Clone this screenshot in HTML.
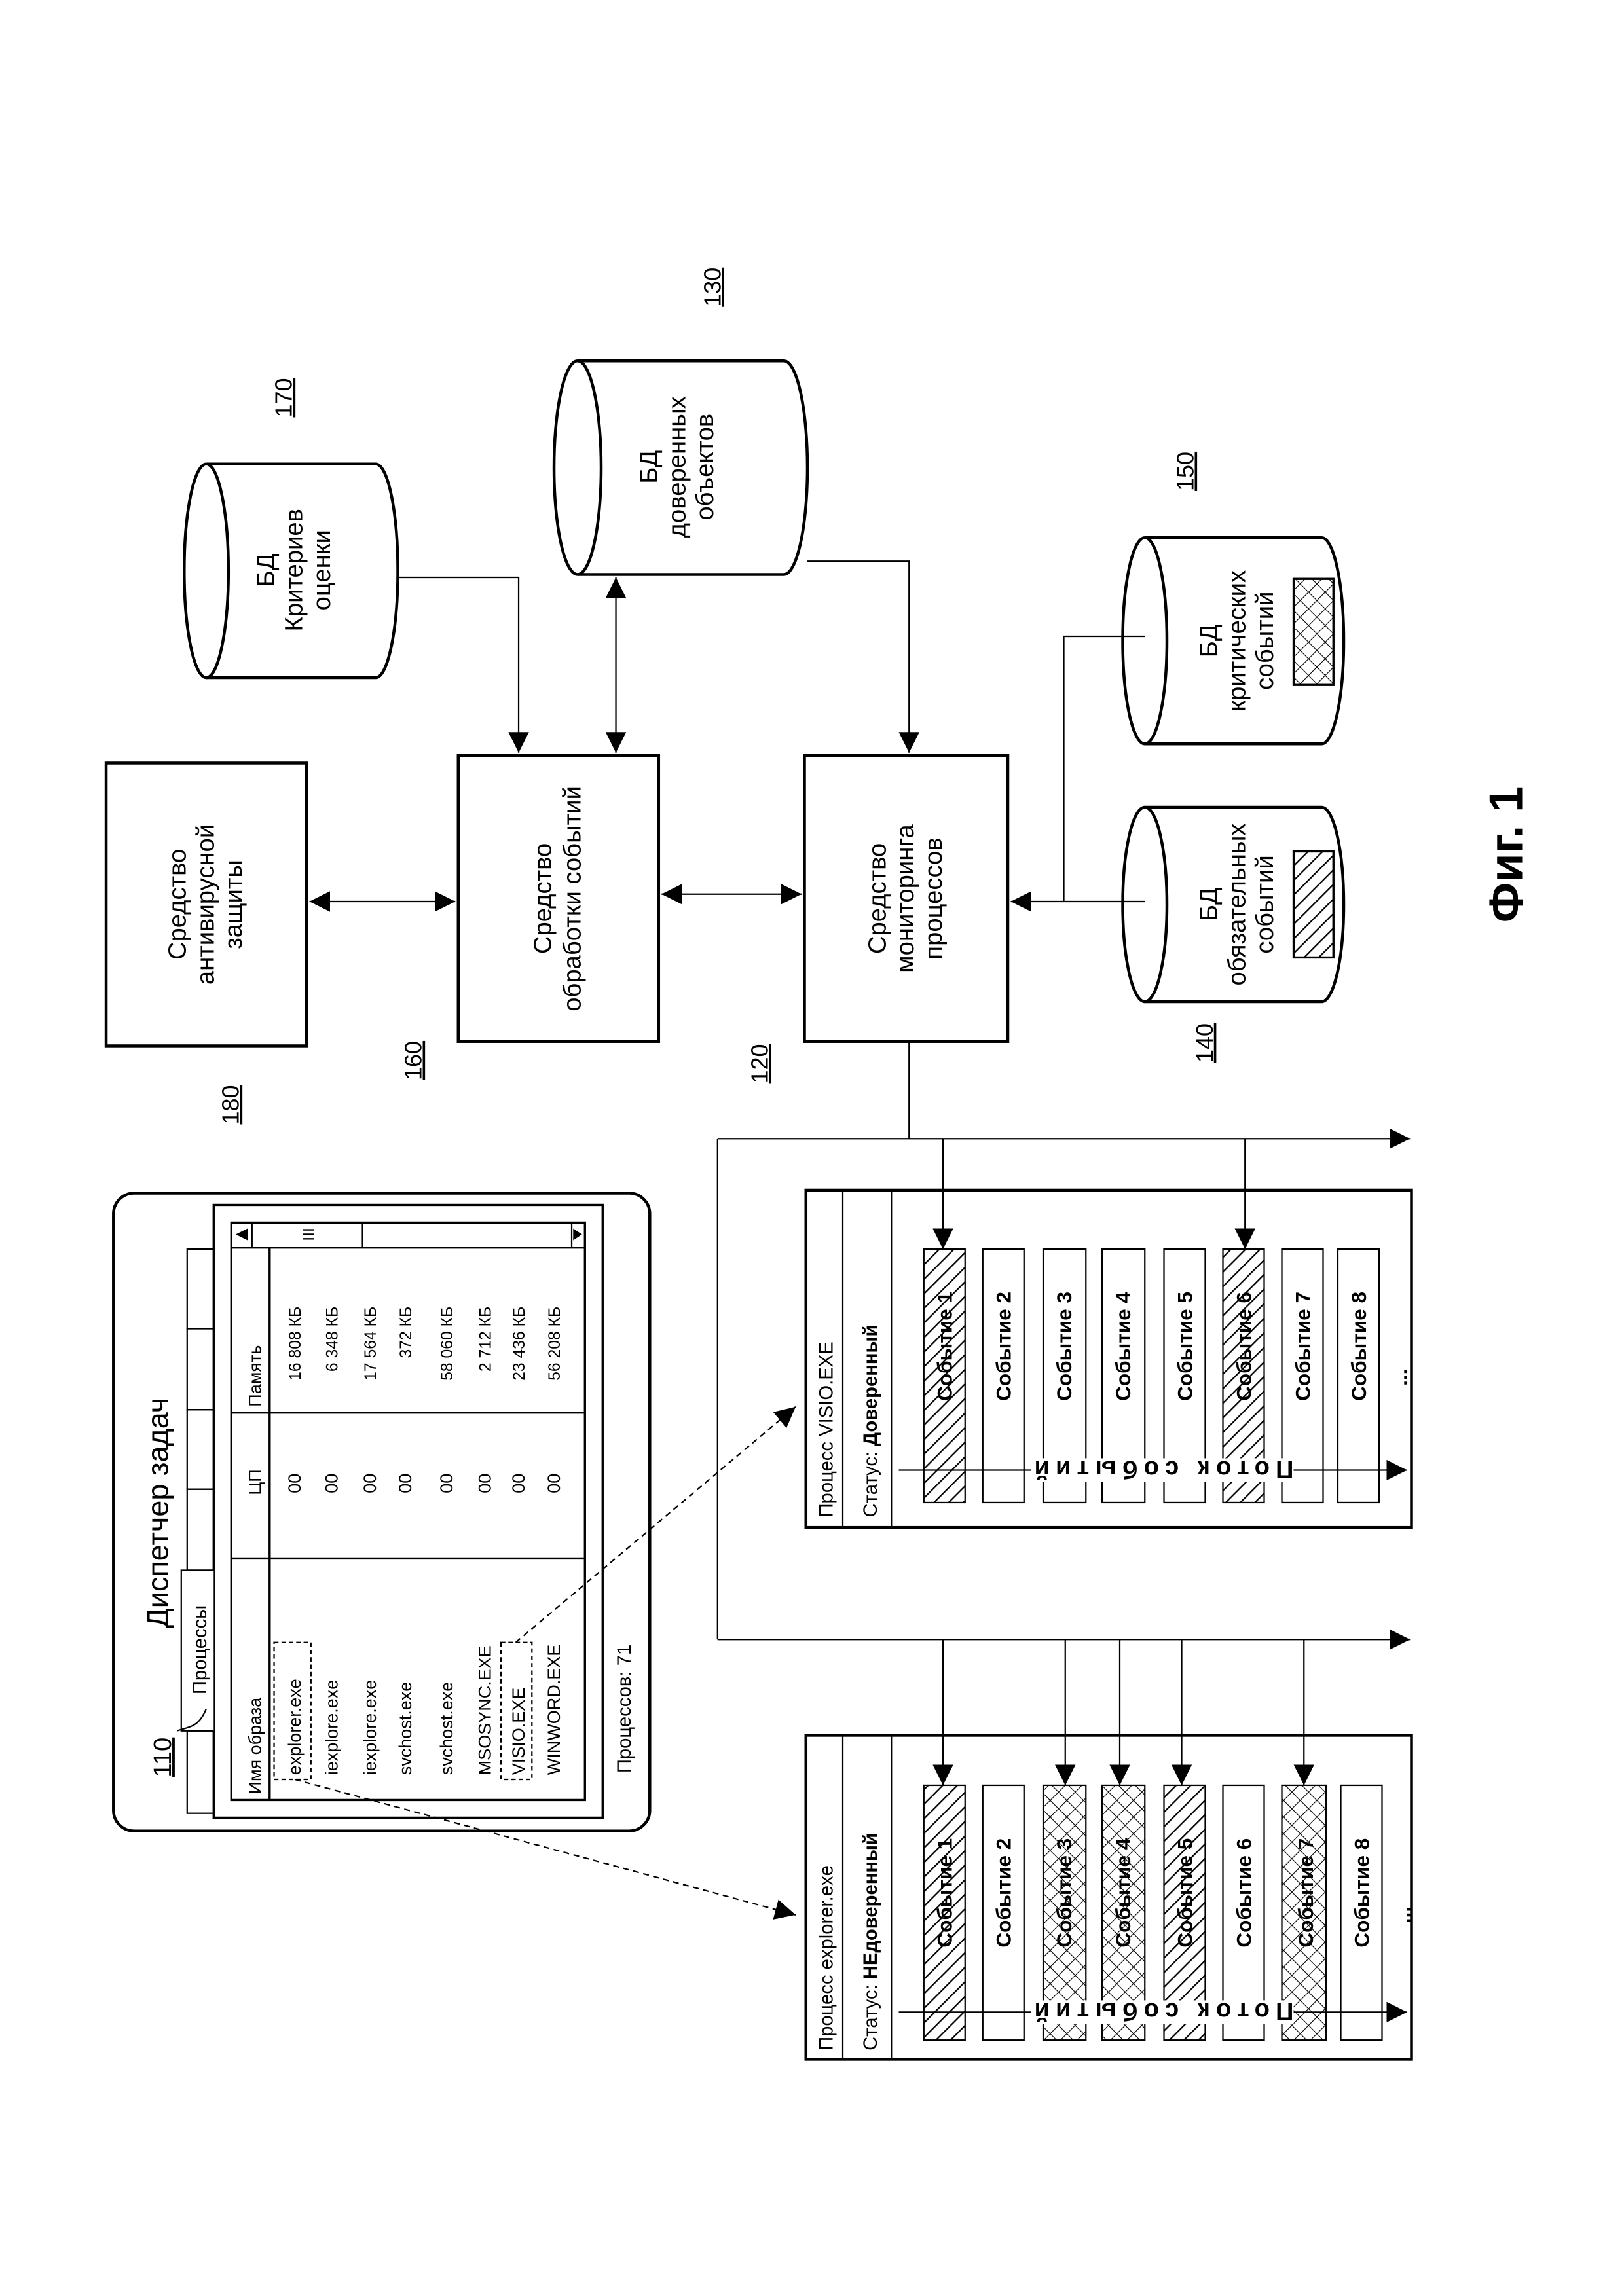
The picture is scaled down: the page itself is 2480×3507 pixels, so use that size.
<!DOCTYPE html>
<html><head><meta charset="utf-8"><style>
html,body{margin:0;padding:0;background:#fff}
svg{display:block}
text{font-family:"Liberation Sans","DejaVu Sans",sans-serif;fill:#000}
</style></head><body>
<svg width="2480" height="3507" viewBox="0 0 1102.2 1558.7" xmlns="http://www.w3.org/2000/svg">
<defs>
<pattern id="hatch" width="7" height="7" patternUnits="userSpaceOnUse" patternTransform="rotate(45)">
<rect width="7" height="7" fill="#fff"/><line x1="0" y1="0" x2="0" y2="7" stroke="#000" stroke-width="2"/></pattern>
<pattern id="cross" width="8" height="8" patternUnits="userSpaceOnUse" patternTransform="rotate(45)">
<rect width="8" height="8" fill="#fff"/><line x1="0" y1="0" x2="0" y2="8" stroke="#000" stroke-width="1"/><line x1="0" y1="0" x2="8" y2="0" stroke="#000" stroke-width="1"/></pattern>
<marker id="ar" viewBox="0 0 10 10" refX="10" refY="5" markerWidth="14" markerHeight="14" markerUnits="userSpaceOnUse" orient="auto-start-reverse"><path d="M0,0 L10,5 L0,10 z" fill="#000"/></marker>
</defs>
<g fill="none" stroke="#000">
<rect x="72" y="518" width="136" height="192" stroke-width="2"/>
<rect x="311" y="513" width="136" height="194" stroke-width="2"/>
<rect x="546" y="513" width="138" height="194" stroke-width="2"/>
<path d="M140,315 L255,315 A15,72.5 0 0 1 255,460 L140,460" stroke-width="2"/><ellipse cx="140" cy="387.5" rx="15" ry="72.5" stroke-width="2"/>
<path d="M392,245 L532,245 A16,72.5 0 0 1 532,390 L392,390" stroke-width="2"/><ellipse cx="392" cy="317.5" rx="16" ry="72.5" stroke-width="2"/>
<path d="M777,365 L897,365 A15,70 0 0 1 897,505 L777,505" stroke-width="2"/><ellipse cx="777" cy="435" rx="15" ry="70" stroke-width="2"/>
<path d="M777,548 L897,548 A15,66 0 0 1 897,680 L777,680" stroke-width="2"/><ellipse cx="777" cy="614" rx="15" ry="66" stroke-width="2"/>
<rect x="878" y="393" width="27" height="72" fill="url(#cross)" stroke-width="1.5"/>
<rect x="878" y="578" width="27" height="72" fill="url(#hatch)" stroke-width="1.5"/>
<line x1="210" y1="612" x2="309" y2="612" stroke-width="1" marker-start="url(#ar)" marker-end="url(#ar)"/>
<line x1="449" y1="607" x2="544" y2="607" stroke-width="1" marker-start="url(#ar)" marker-end="url(#ar)"/>
<path d="M270,392 H352 V511" stroke-width="1" marker-end="url(#ar)"/>
<line x1="418" y1="392" x2="418" y2="511" stroke-width="1" marker-start="url(#ar)" marker-end="url(#ar)"/>
<path d="M548,381 H617 V511" stroke-width="1" marker-end="url(#ar)"/>
<path d="M777,432 H722 V612 H777" stroke-width="1"/>
<line x1="722" y1="612" x2="686" y2="612" stroke-width="1" marker-end="url(#ar)"/>
<line x1="617" y1="707" x2="617" y2="773" stroke-width="1"/>
<line x1="487" y1="773" x2="957" y2="773" stroke-width="1" marker-end="url(#ar)"/>
<line x1="487" y1="773" x2="487" y2="1113" stroke-width="1"/>
<line x1="487" y1="1113" x2="957" y2="1113" stroke-width="1" marker-end="url(#ar)"/>
<line x1="640" y1="773" x2="640" y2="848" stroke-width="1" marker-end="url(#ar)"/>
<line x1="845" y1="773" x2="845" y2="848" stroke-width="1" marker-end="url(#ar)"/>
<line x1="640" y1="1113" x2="640" y2="1212" stroke-width="1" marker-end="url(#ar)"/>
<line x1="723" y1="1113" x2="723" y2="1212" stroke-width="1" marker-end="url(#ar)"/>
<line x1="760" y1="1113" x2="760" y2="1212" stroke-width="1" marker-end="url(#ar)"/>
<line x1="802" y1="1113" x2="802" y2="1212" stroke-width="1" marker-end="url(#ar)"/>
<line x1="885" y1="1113" x2="885" y2="1212" stroke-width="1" marker-end="url(#ar)"/>
<rect x="547" y="808" width="411" height="229" stroke-width="2"/>
<line x1="572" y1="808" x2="572" y2="1037" stroke-width="1"/><line x1="605" y1="808" x2="605" y2="1037" stroke-width="1"/>
<rect x="547" y="1178" width="411" height="220" stroke-width="2"/>
<line x1="572" y1="1178" x2="572" y2="1398" stroke-width="1"/><line x1="605" y1="1178" x2="605" y2="1398" stroke-width="1"/>
<rect x="627" y="848" width="28" height="172" fill="url(#hatch)"/>
<rect x="667" y="848" width="28" height="172"/>
<rect x="708" y="848" width="29" height="172"/>
<rect x="748" y="848" width="29" height="172"/>
<rect x="790" y="848" width="28" height="172"/>
<rect x="830" y="848" width="28" height="172" fill="url(#hatch)"/>
<rect x="870" y="848" width="28" height="172"/>
<rect x="908" y="848" width="28" height="172"/>
<rect x="627" y="1212" width="28" height="173" fill="url(#hatch)"/>
<rect x="667" y="1212" width="28" height="173"/>
<rect x="708" y="1212" width="29" height="173" fill="url(#cross)"/>
<rect x="748" y="1212" width="29" height="173" fill="url(#cross)"/>
<rect x="790" y="1212" width="28" height="173" fill="url(#hatch)"/>
<rect x="830" y="1212" width="28" height="173"/>
<rect x="870" y="1212" width="30" height="173" fill="url(#cross)"/>
<rect x="910" y="1212" width="28" height="173"/>
<line x1="610" y1="998" x2="955" y2="998" stroke-width="1" marker-end="url(#ar)"/>
<line x1="610" y1="1366" x2="955" y2="1366" stroke-width="1" marker-end="url(#ar)"/>
<rect x="700" y="990" width="178" height="16" fill="#fff" stroke="none"/>
<rect x="700" y="1358" width="178" height="16" fill="#fff" stroke="none"/>
<rect x="77" y="810" width="364" height="433" rx="14" stroke-width="2"/>
<rect x="127" y="848" width="18" height="54" stroke-width="1"/>
<rect x="127" y="902" width="18" height="55" stroke-width="1"/>
<rect x="127" y="957" width="18" height="54" stroke-width="1"/>
<rect x="127" y="1011" width="18" height="55" stroke-width="1"/>
<rect x="127" y="1175" width="18" height="56" stroke-width="1"/>
<rect x="145" y="818" width="264" height="416" fill="#fff" stroke-width="1.5"/>
<path d="M145,1066 H123 V1175 H145" fill="#fff" stroke-width="1"/>
<path d="M120,1175 C130,1172 135,1172 140,1160" stroke-width="1"/>
<rect x="157" y="830" width="240" height="392" stroke-width="1.5"/>
<line x1="157" y1="847" x2="397" y2="847" stroke-width="1.5"/>
<line x1="171" y1="830" x2="171" y2="847" stroke-width="1"/>
<line x1="246" y1="830" x2="246" y2="847" stroke-width="1"/>
<line x1="388" y1="830" x2="388" y2="847" stroke-width="1"/>
<line x1="183" y1="847" x2="183" y2="1222" stroke-width="1.5"/>
<line x1="157" y1="959" x2="397" y2="959" stroke-width="1.5"/>
<line x1="157" y1="1058" x2="397" y2="1058" stroke-width="1.5"/>
<rect x="186" y="1115" width="25" height="93" stroke-width="1" stroke-dasharray="3,2"/>
<rect x="340" y="1115" width="21" height="93" stroke-width="1" stroke-dasharray="3,2"/>
<line x1="200" y1="1208" x2="540" y2="1300" stroke-width="1" stroke-dasharray="4,3" marker-end="url(#ar)"/>
<line x1="350" y1="1115" x2="540" y2="955" stroke-width="1" stroke-dasharray="4,3" marker-end="url(#ar)"/>
</g>
<path d="M160,838 L168,834 L168,842 z"/><path d="M395,838 L389,834 L389,842 z"/>
<text transform="translate(213,838) rotate(-90)" font-size="11" text-anchor="middle">III</text>

<g font-size="17" text-anchor="middle">
<text transform="translate(140,614) rotate(-90)"><tspan x="0" y="-14">Средство</tspan><tspan x="0" y="5">антивирусной</tspan><tspan x="0" y="24">защиты</tspan></text>
<text transform="translate(379,610) rotate(-90)"><tspan x="0" y="-5">Средство</tspan><tspan x="0" y="15">обработки событий</tspan></text>
<text transform="translate(615,610) rotate(-90)"><tspan x="0" y="-14">Средство</tspan><tspan x="0" y="5">мониторинга</tspan><tspan x="0" y="24">процессов</tspan></text>
<text transform="translate(200,387) rotate(-90)"><tspan x="0" y="-14">БД</tspan><tspan x="0" y="5">Критериев</tspan><tspan x="0" y="24">оценки</tspan></text>
<text transform="translate(460,317) rotate(-90)"><tspan x="0" y="-14">БД</tspan><tspan x="0" y="5">доверенных</tspan><tspan x="0" y="24">объектов</tspan></text>
<text transform="translate(840,435) rotate(-90)"><tspan x="0" y="-14">БД</tspan><tspan x="0" y="5">критических</tspan><tspan x="0" y="24">событий</tspan></text>
<text transform="translate(840,614) rotate(-90)"><tspan x="0" y="-14">БД</tspan><tspan x="0" y="5">обязательных</tspan><tspan x="0" y="24">событий</tspan></text>
</g>
<g font-size="16" text-decoration="underline" text-anchor="middle">
<text transform="translate(162,750) rotate(-90)">180</text>
<text transform="translate(286,720) rotate(-90)">160</text>
<text transform="translate(521,722) rotate(-90)">120</text>
<text transform="translate(198,270) rotate(-90)">170</text>
<text transform="translate(489,195) rotate(-90)">130</text>
<text transform="translate(810,320) rotate(-90)">150</text>
<text transform="translate(823,708) rotate(-90)">140</text>
</g>
<text transform="translate(1033,580) rotate(-90)" font-size="32" font-weight="bold" text-anchor="middle">Фиг. 1</text>

<g font-size="13">
<text transform="translate(565,1030) rotate(-90)">Процесс  VISIO.EXE</text>
<text transform="translate(595,1030) rotate(-90)">Статус: <tspan font-weight="bold">Доверенный</tspan></text>
<text transform="translate(565,1392) rotate(-90)">Процесс   explorer.exe</text>
<text transform="translate(595,1392) rotate(-90)">Статус: <tspan font-weight="bold">НЕдоверенный</tspan></text>
</g>
<g font-size="14" font-weight="bold" text-anchor="middle">
<text transform="translate(646,914) rotate(-90)">Событие 1</text>
<text transform="translate(686,914) rotate(-90)">Событие 2</text>
<text transform="translate(727,914) rotate(-90)">Событие 3</text>
<text transform="translate(767,914) rotate(-90)">Событие 4</text>
<text transform="translate(809,914) rotate(-90)">Событие 5</text>
<text transform="translate(849,914) rotate(-90)">Событие 6</text>
<text transform="translate(889,914) rotate(-90)">Событие 7</text>
<text transform="translate(927,914) rotate(-90)">Событие 8</text>
<text transform="translate(955,935) rotate(-90)">...</text>
<text transform="translate(646,1285) rotate(-90)">Событие 1</text>
<text transform="translate(686,1285) rotate(-90)">Событие 2</text>
<text transform="translate(727,1285) rotate(-90)">Событие 3</text>
<text transform="translate(767,1285) rotate(-90)">Событие 4</text>
<text transform="translate(809,1285) rotate(-90)">Событие 5</text>
<text transform="translate(849,1285) rotate(-90)">Событие 6</text>
<text transform="translate(891,1285) rotate(-90)">Событие 7</text>
<text transform="translate(929,1285) rotate(-90)">Событие 8</text>
<text transform="translate(957,1300) rotate(-90)">...</text>
</g>
<g font-size="17" font-weight="bold">
<text transform="translate(878,992) rotate(180)" textLength="176" lengthAdjust="spacing">Поток событий</text>
<text transform="translate(878,1360) rotate(180)" textLength="176" lengthAdjust="spacing">Поток событий</text>
</g>

<text transform="translate(114,1027) rotate(-90)" font-size="20" text-anchor="middle">Диспетчер задач</text>
<text transform="translate(116,1193) rotate(-90)" font-size="17" text-anchor="middle" text-decoration="underline">110</text>
<text transform="translate(140,1120) rotate(-90)" font-size="13" text-anchor="middle">Процессы</text>
<text transform="translate(428,1160) rotate(-90)" font-size="13" text-anchor="middle">Процессов: 71</text>
<g font-size="12">
<text transform="translate(177,1218) rotate(-90)">Имя образа</text>
<text transform="translate(177,1015) rotate(-90)">ЦП</text>
<text transform="translate(177,955) rotate(-90)">Память</text>
</g>
<g font-size="12">
<text transform="translate(204,1205) rotate(-90)">explorer.exe</text>
<text transform="translate(229,1205) rotate(-90)">iexplore.exe</text>
<text transform="translate(255,1205) rotate(-90)">iexplore.exe</text>
<text transform="translate(279,1205) rotate(-90)">svchost.exe</text>
<text transform="translate(307,1205) rotate(-90)">svchost.exe</text>
<text transform="translate(333,1205) rotate(-90)">MSOSYNC.EXE</text>
<text transform="translate(356,1205) rotate(-90)">VISIO.EXE</text>
<text transform="translate(380,1205) rotate(-90)">WINWORD.EXE</text>
</g>
<g font-size="12" text-anchor="middle">
<text transform="translate(204,1007) rotate(-90)">00</text>
<text transform="translate(229,1007) rotate(-90)">00</text>
<text transform="translate(255,1007) rotate(-90)">00</text>
<text transform="translate(279,1007) rotate(-90)">00</text>
<text transform="translate(307,1007) rotate(-90)">00</text>
<text transform="translate(333,1007) rotate(-90)">00</text>
<text transform="translate(356,1007) rotate(-90)">00</text>
<text transform="translate(380,1007) rotate(-90)">00</text>
</g>
<g font-size="11" text-anchor="end">
<text transform="translate(204,887) rotate(-90)">16 808 КБ</text>
<text transform="translate(229,887) rotate(-90)">6 348 КБ</text>
<text transform="translate(255,887) rotate(-90)">17 564 КБ</text>
<text transform="translate(279,887) rotate(-90)">372 КБ</text>
<text transform="translate(307,887) rotate(-90)">58 060 КБ</text>
<text transform="translate(333,887) rotate(-90)">2 712 КБ</text>
<text transform="translate(356,887) rotate(-90)">23 436 КБ</text>
<text transform="translate(380,887) rotate(-90)">56 208 КБ</text>
</g>
</svg>
</body></html>
